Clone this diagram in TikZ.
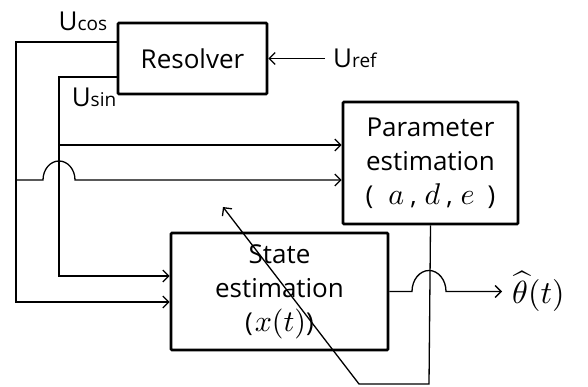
\documentclass[tikz,border=0pt]{standalone}
\usepackage{fontspec}
\setmainfont{Open Sans}
\usetikzlibrary{arrows.meta}
\newcommand\smtxt[1]{{\fontsize{19}{19}\selectfont #1}}
\newcommand\bigmath[1]{\scalebox{3}{\normalsize$#1$}}
\tikzset{
  blk/.style={draw, line width=2.6pt, rounded corners=1pt, align=center,
    font=\fontsize{26}{34}\selectfont},
  lbl/.style={font=\fontsize{26}{26}\selectfont, inner sep=0pt},
  wire/.style={line width=1.3pt},
  >={Straight Barb[length=6pt,width=12pt,line width=1.3pt]}
}
\begin{document}
\begin{tikzpicture}[x=1pt,y=1pt]
  \useasboundingbox (0,0) rectangle (588,387);
  % blocks
  \node[blk, minimum width=149pt, minimum height=71pt] (res) at (192.5,328.5) {Resolver};
  \node[blk, minimum width=175pt, minimum height=122pt, inner sep=2pt] (param) at (430.5,224)
    {Parameter\\estimation\\(\hskip15pt\bigmath{a}\hskip6pt,\hskip8pt\bigmath{d}\hskip6pt,\hskip8pt\bigmath{e}\hskip13pt)};
  \node[blk, minimum width=217pt, minimum height=117pt] (state) at (279.5,95.5)
    {State\\estimation\\(\hskip2pt\bigmath{x(t)})};
  % corner points
  \coordinate (cosL) at (16,345);
  \coordinate (sinL) at (59,310);
  \coordinate (fbk) at (429,3);
  \coordinate (fbkL) at (359,3);
  \coordinate (tip) at (223,180);
  \coordinate (refR) at (325,328.5);
  \path ([yshift=18pt]param.west) coordinate (pinA)
        ([yshift=-17pt]param.west) coordinate (pinB);
  % labels
  \node[lbl, anchor=base] (ucos) at (83,356) {U\smtxt{cos}};
  \node[lbl, anchor=base] (usin) at (94,280) {U\smtxt{sin}};
  \node[lbl, anchor=west] (uref) at (333,329) {U\smtxt{ref}};
  % wires
  \draw[wire,->] (res.west |- cosL) -- (cosL) |- ([yshift=-10.5pt]state.west);
  \draw[wire,->] (res.west |- sinL) -- (sinL) |- ([yshift=15.5pt]state.west);
  \draw[wire,->] (sinL |- pinA) -- (pinA);
  \draw[wire,->] (cosL |- pinB) -- ([xshift=-16pt]sinL |- pinB)
    arc[start angle=180, end angle=0, x radius=16pt, y radius=19pt] -- (pinB);
  \draw[wire,->] (refR) -- (res.east);
  \draw[wire,->] (state.east) -- ([xshift=-17pt]fbk |- state.east)
    arc[start angle=180, end angle=0, x radius=17pt, y radius=21pt]
    -- ++(56,0) coordinate (outR);
  \node[right, xshift=8pt, inner sep=2pt] (out) at (outR) {\scalebox{3.2}{\normalsize$\widehat{\theta}(t)$}};
  \draw[wire,->] (param.south) -- (fbk) -- (fbkL) -- (tip);
\end{tikzpicture}
\end{document}
